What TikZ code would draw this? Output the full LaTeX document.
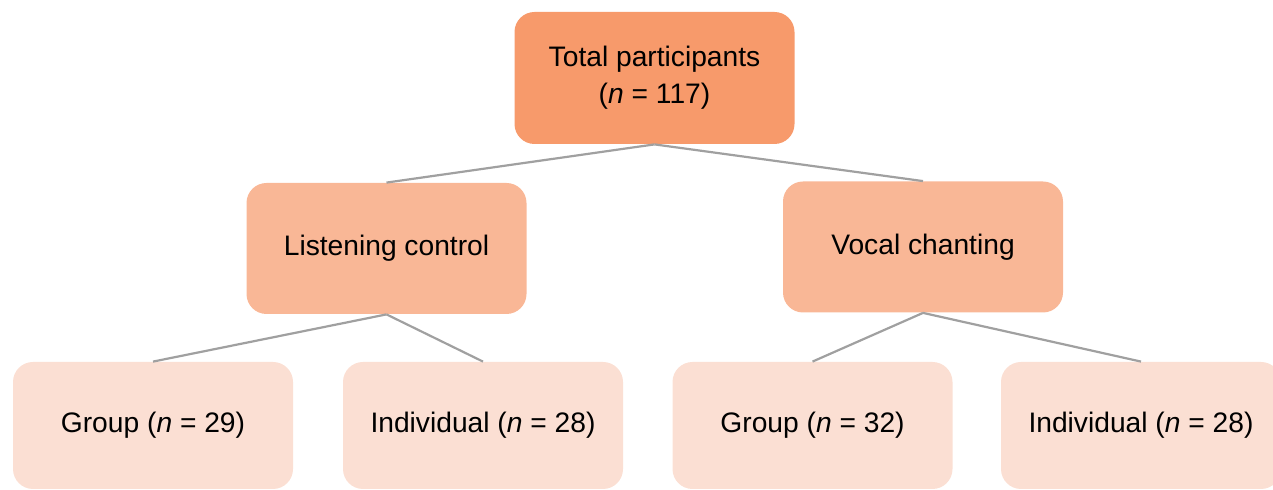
\documentclass[tikz,border=0pt]{standalone}
\usepackage{fontspec}
\setmainfont{Liberation Sans}
\definecolor{topfill}{HTML}{F79A6B}
\definecolor{midfill}{HTML}{F9B796}
\definecolor{lowfill}{HTML}{FBDFD3}
\definecolor{linkgray}{HTML}{A0A0A0}
\begin{document}
\begin{tikzpicture}[x=0.5pt,y=-0.5pt,
  box/.style={rectangle, rounded corners=10pt, draw=none, align=center,
    font=\fontsize{14.1pt}{18.5pt}\selectfont, text=black,
    minimum width=140pt, inner sep=0pt},
  topbox/.style={box, fill=topfill, minimum height=66pt},
  midbox/.style={box, fill=midfill, minimum height=65.5pt},
  lowbox/.style={box, fill=lowfill, minimum height=63.5pt},
  link/.style={draw=linkgray, line width=1.1pt}]
\clip (0,0) rectangle (1273,490);
\useasboundingbox (0,0) rectangle (1273,490);
\node[topbox] (top) at (654.5,78) {Total participants\\(\textit{n} = 117)};
\node[midbox] (listen) at (386.5,248.5) {Listening control};
\node[midbox] (vocal) at (923,247) {Vocal chanting};
\node[lowbox] (g1) at (153,425.5) {Group (\textit{n} = 29)};
\node[lowbox] (i1) at (483,425.5) {Individual (\textit{n} = 28)};
\node[lowbox] (g2) at (812.5,425.5) {Group (\textit{n} = 32)};
\node[lowbox] (i2) at (1141,425.5) {Individual (\textit{n} = 28)};
\draw[link] (top.south) -- (listen.north);
\draw[link] (top.south) -- (vocal.north);
\draw[link] (listen.south) -- (g1.north);
\draw[link] (listen.south) -- (i1.north);
\draw[link] (vocal.south) -- (g2.north);
\draw[link] (vocal.south) -- (i2.north);
\end{tikzpicture}
\end{document}
